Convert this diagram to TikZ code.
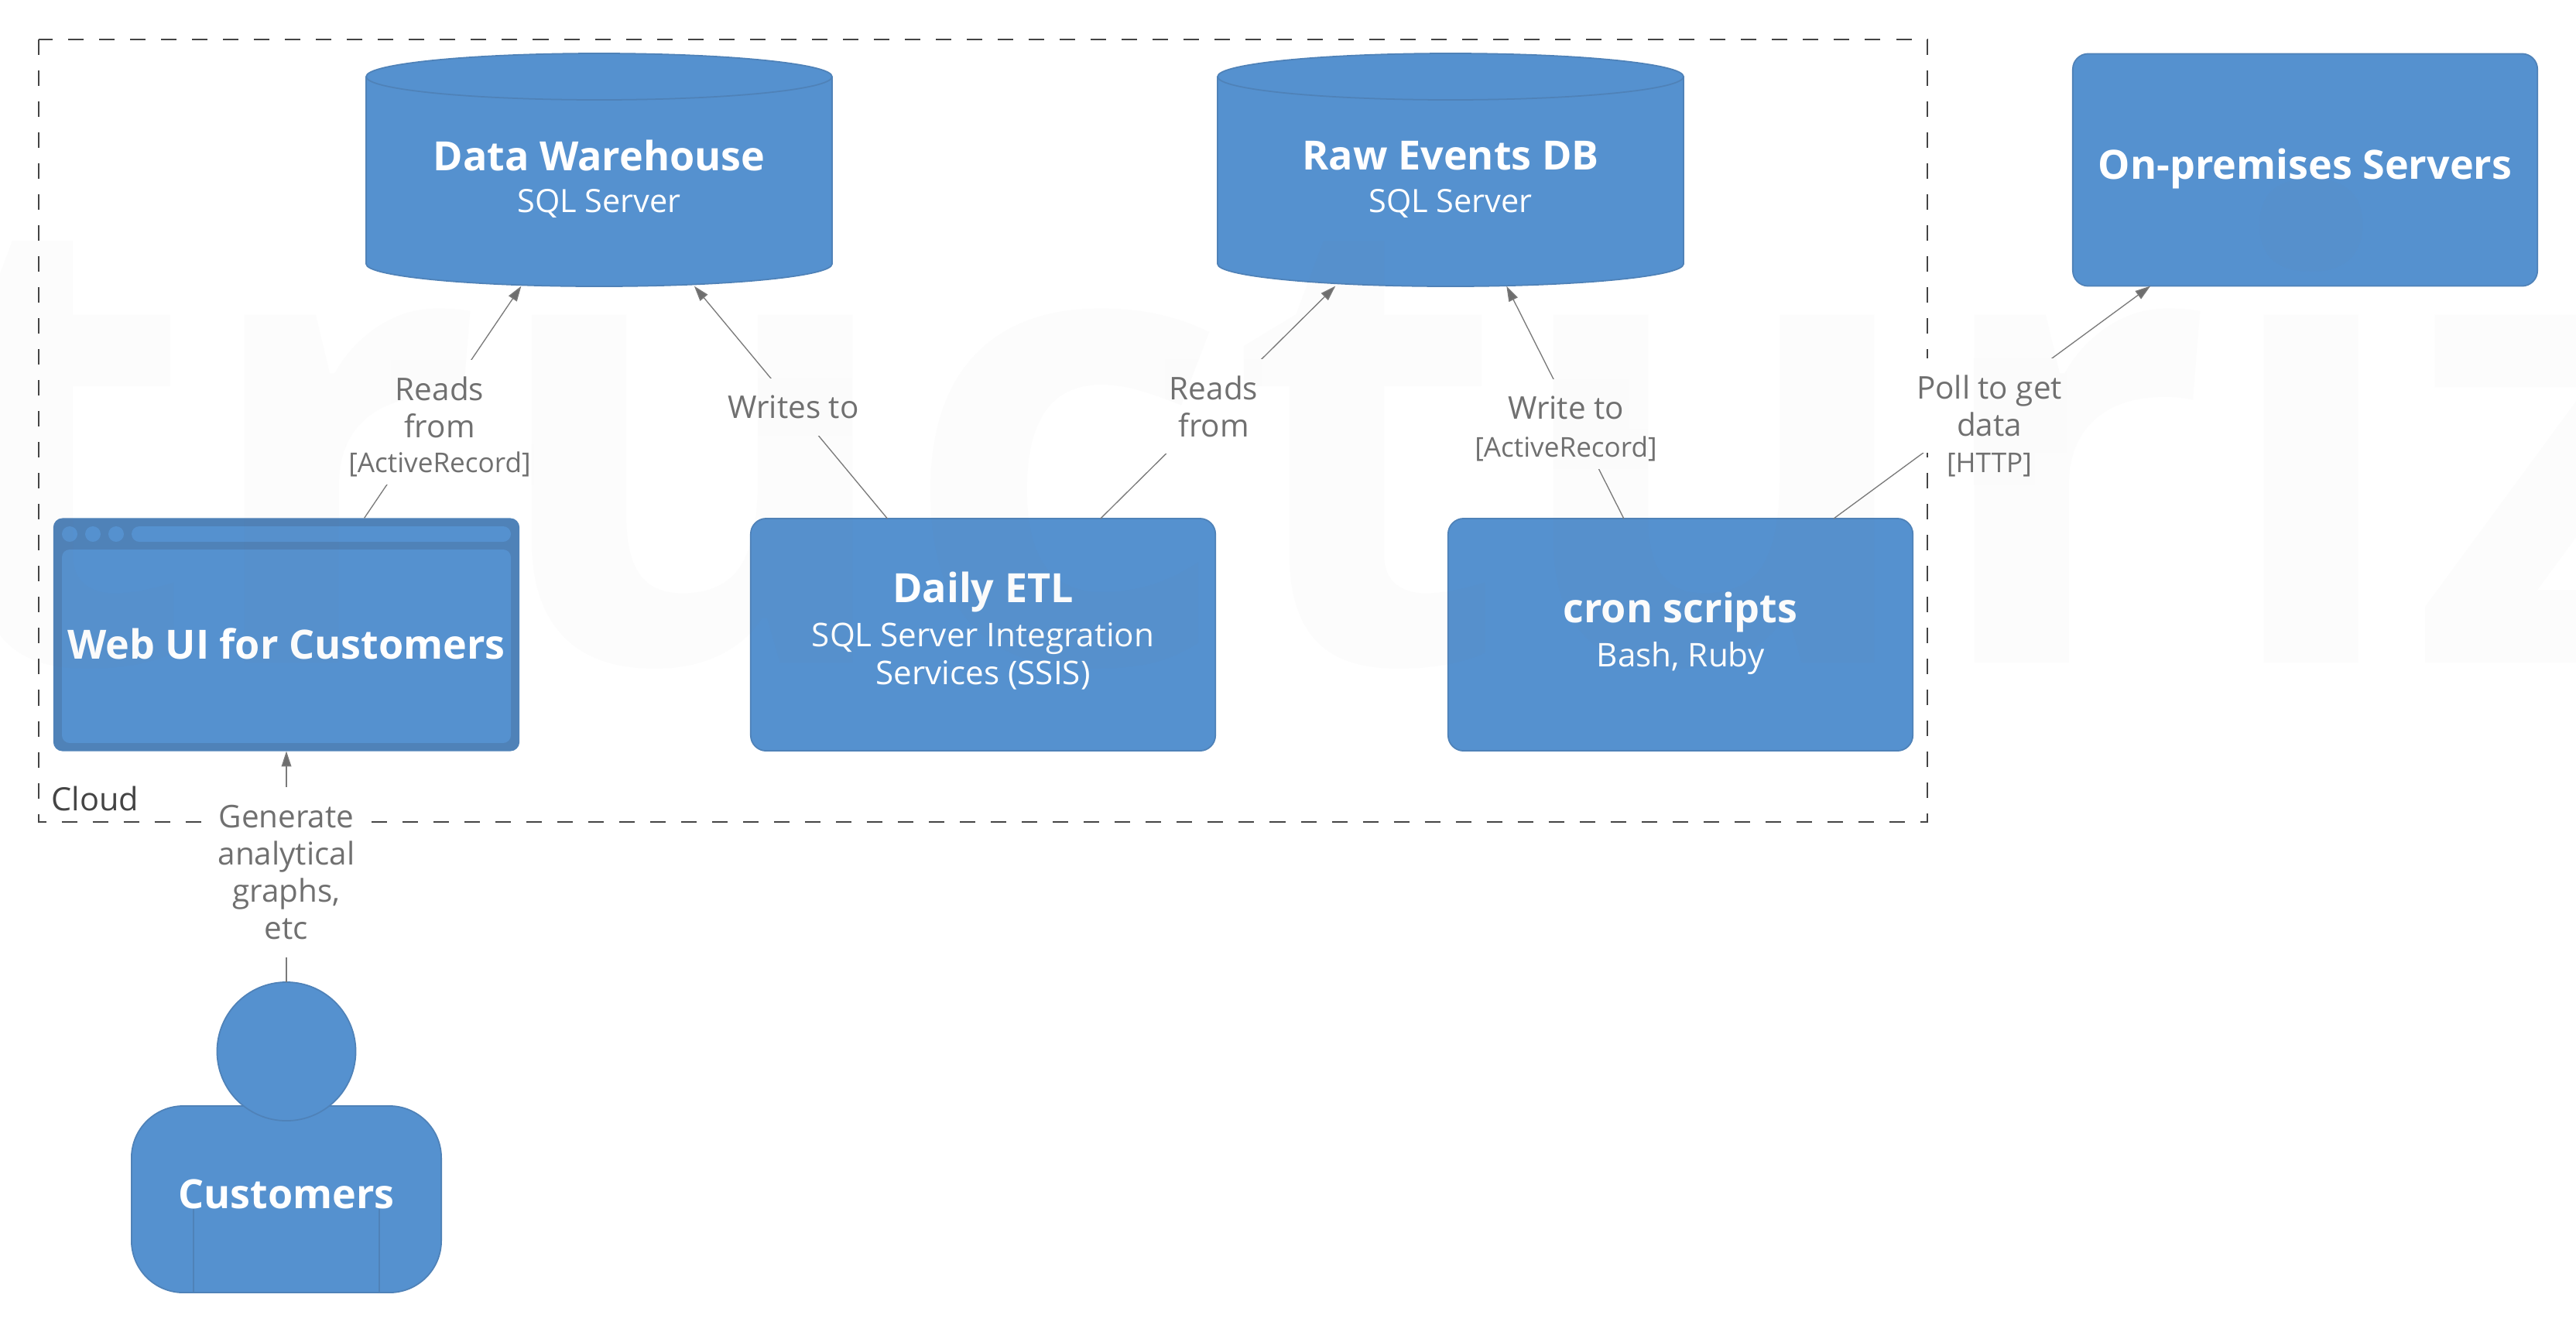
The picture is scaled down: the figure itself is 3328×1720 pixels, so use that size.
\documentclass[tikz,border=0pt]{standalone}
\usepackage{fontspec}
\setmainfont{Open Sans}
\usepackage{xcolor}
\usetikzlibrary{arrows.meta,calc}
\definecolor{boxfill}{HTML}{5591CF}
\definecolor{boxedge}{HTML}{4F82B8}
\definecolor{linegray}{HTML}{7A7A7A}
\definecolor{tipgray}{HTML}{6E6E6E}
\definecolor{textgray}{HTML}{707070}
\definecolor{cloudgray}{HTML}{444444}
\newcommand{\headsize}{\fontsize{14.8}{17}\selectfont\bfseries}
\newcommand{\descsize}{\fontsize{12}{13.7}\selectfont}
\newcommand{\labelsize}{\fontsize{11.5}{13.66}\selectfont}
\newcommand{\techsize}{\fontsize{10}{11.4}\selectfont}
\tikzset{
  boxnode/.style={draw=boxedge, fill=boxfill, rounded corners=0.2cm, line width=0.5pt,
    minimum width=6cm, minimum height=3cm, inner sep=0pt, outer sep=0pt},
  dbnode/.style={minimum width=6.02cm, minimum height=3cm, inner sep=0pt, outer sep=0pt},
  titlenode/.style={text=white, align=center, inner sep=0pt, font=\descsize},
  rel/.style={draw=linegray, line width=0.38pt, -{Triangle[length=5.6pt,width=3.6pt,fill=tipgray]}},
  rellabel/.style={fill=white, text=textgray, align=center, font=\labelsize, inner xsep=0.06cm, inner ysep=0pt, minimum height=0.74cm},
  tworows/.style={minimum height=1.22cm},
  fourrows/.style={minimum height=2.19cm},
  techlabel/.style={fill=white, text=textgray, align=center, font=\techsize, inner xsep=0.04cm, inner ysep=0.1cm},
  framepart/.style={fill=boxfill, rounded corners=0.1cm}
}
\begin{document}
\begin{tikzpicture}[x=0.01cm, y=-0.01cm]
    \useasboundingbox (0,0) rectangle (3328,1720);
    % Cloud boundary
    \draw[cloudgray, line width=0.8pt, dash pattern=on 0.2cm off 0.2cm] (50,51) rectangle (2490,1062);
    \node[cloudgray, anchor=base west, font=\fontsize{11.8}{13.7}\selectfont, inner sep=0pt] (cloudlabel) at (66,1047) {Cloud};
    % Databases
    \foreach \nm/\cx/\ttl in {dw/774/Data Warehouse, raw/1874/Raw Events DB} {
        \node[dbnode] (\nm) at (\cx,219.5) {};
        \draw[boxedge, line width=0.5pt, fill=boxfill] (\cx-301,99) -- (\cx-301,341) arc[start angle=180, end angle=0, x radius=301, y radius=29] -- (\cx+301,99);
        \draw[boxedge, line width=0.5pt, fill=boxfill] (\cx,99) ellipse (301 and 30);
        \node[titlenode] (\nm title) at (\cx,201) {\headsize \ttl};
        \node[titlenode, anchor=base, font=\fontsize{11.8}{13.7}\selectfont] (\nm desc) at (\cx,274) {SQL Server};
    }
    % Containers
    \node[boxnode] (etl) at (1270,820) {};
    \node[titlenode] (etltitle) at (1270,815) {\headsize Daily ETL\\[2.5pt] SQL Server Integration\\ Services (SSIS)};
    \node[boxnode] (cron) at (2171,820) {};
    \node[titlenode] (crontitle) at (2171,818) {\headsize cron scripts\\[2.5pt] Bash, Ruby};
    \node[boxnode] (onprem) at (2978,219.5) {};
    \node[titlenode, anchor=base] (onpremtitle) at (2978,231) {\headsize On-premises Servers};
    % Browser window
    \node[boxnode, draw=none, fill=boxedge, minimum width=6.02cm, minimum height=3.01cm, rounded corners=0.12cm] (web) at (370,820) {};
    \fill[framepart] (80,710) rectangle (660,960);
    \fill[framepart] (170,680) rectangle (660,700);
    \foreach \dotx in {90,120,150} {
        \fill[boxfill] (\dotx,690) circle (10);
    }
    \node[titlenode] (webtitle) at (370,832) {\headsize Web UI for Customers};
    % Person
    \node[boxnode, minimum width=4cm, minimum height=2.41cm, rounded corners=0.67cm] (body) at (370,1549.5) {};
    \node[circle, draw=boxedge, fill=boxfill, line width=0.5pt, minimum size=1.79cm, inner sep=0pt, outer sep=0pt] (head) at (370,1358.5) {};
    \draw[boxedge, line width=0.5pt] (250,1562) -- (body.south -| 250,0);
    \draw[boxedge, line width=0.5pt] (490,1562) -- (body.south -| 490,0);
    \node[titlenode] (bodytitle) at (370,1543) {\headsize Customers};
    % Relationships
    \draw[rel] ($(web.north west)!0.667!(web.north east)$) -- ($(dw.south west)!0.333!(dw.south east)$);
    \draw[rel] ($(etl.north west)!0.294!(etl.north east)$) -- ($(dw.south west)!0.704!(dw.south east)$);
    \draw[rel] ($(etl.north west)!0.753!(etl.north east)$) -- ($(raw.south west)!0.253!(raw.south east)$);
    \draw[rel] ($(cron.north west)!0.378!(cron.north east)$) -- ($(raw.south west)!0.62!(raw.south east)$);
    \draw[rel] ($(cron.north west)!0.83!(cron.north east)$) -- ($(onprem.south west)!0.167!(onprem.south east)$);
    \draw[rel] (head.north) -- (web.south);
    % Labels on the relationships
    \node[rellabel, tworows] (readsdw) at (568,526) {Reads\\from};
    \node[techlabel] (readsdwtech) at (568,600) {[ActiveRecord]};
    \node[rellabel] (writesdw) at (1025,526) {Writes to};
    \node[rellabel, tworows] (readsraw) at (1568,525) {Reads\\from};
    \node[rellabel] (writesraw) at (2023,527) {Write to};
    \node[techlabel] (writesrawtech) at (2023,580) {[ActiveRecord]};
    \node[rellabel, tworows] (pollserv) at (2570,524) {Poll to get\\data};
    \node[techlabel] (pollservtech) at (2570,601) {[HTTP]};
    \node[rellabel, fourrows] (generate) at (370,1127) {Generate\\analytical\\graphs,\\etc};
    % Watermark
    \begin{scope}
        \clip (0,0) rectangle (3328,1720);
        \node[anchor=base, text=gray, text opacity=0.028, inner sep=0pt, font=\fontsize{234}{240}\selectfont\bfseries] (mark) at (1664,856) {Structurizr};
    \end{scope}
\end{tikzpicture}
\end{document}
